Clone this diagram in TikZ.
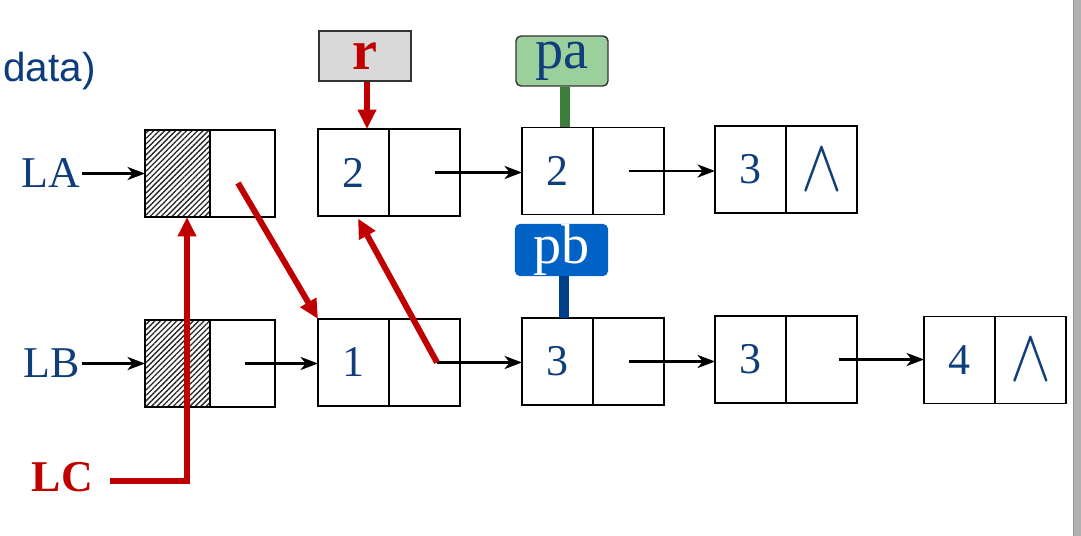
\documentclass[tikz,border=0pt]{standalone}
\usepackage{fontspec}
\setmainfont{Liberation Serif}
\newfontfamily\slidesans{Liberation Sans}
\usetikzlibrary{arrows.meta,chains,positioning,%
	patterns.meta}

\definecolor{txtblue}{RGB}{16,62,122}
\definecolor{ptrred}{RGB}{192,0,0}
\definecolor{pagreen}{RGB}{155,207,155}
\definecolor{pastem}{RGB}{60,125,60}
\definecolor{pbblue}{RGB}{0,98,196}
\definecolor{pbstem}{RGB}{0,64,138}

\begin{document}
\begin{tikzpicture}[
			start chain =1 going right,
			start chain =2 going right,
			node distance = 0pt,
			font=\fontsize{25}{28}\selectfont,
			Cell/.style={draw, line width=0.9pt, minimum width=1.42cm, minimum height=1.74cm, 
				outer sep=0pt, inner sep=0pt, text=txtblue},
			A/.style={Cell, on chain=1},
			B/.style={Cell, on chain=2},
			Head/.style={minimum width=1.3cm},
			Hatch/.style={Head, pattern={Lines[angle=45, distance=2.2pt, line width=0.75pt]}, 
				pattern color=black!85},
			Nil/.style={font=\fontsize{28}{30}\selectfont},
			Tag/.style={draw=black!80, line width=0.8pt, minimum width=1.84cm, minimum height=1cm, 
				inner sep=0pt, font=\fontsize{32}{34}\selectfont},
			Lbl/.style={inner sep=1pt, text=txtblue},
			ptr/.style={-{Stealth[length=10pt, width=7.5pt, inset=3pt]}, line width=1.2pt},
			redptr/.style={-{Triangle[length=11pt, width=10pt]}, line width=3.4pt, draw=ptrred},
			]
			\useasboundingbox (0,0) rectangle (21.62,-10.72);
			\fill[gray!62] (21.46,0) rectangle (21.62,-10.72);
			\draw[gray!80, line width=0.6pt] (21.47,0) -- (21.47,-10.72);
			
			\node [anchor=base west, inner sep=0pt, text={rgb,255:red,12;green,60;blue,125}, 
			font=\slidesans\fontsize{23}{26}\selectfont] (title) at (0.06,-1.64) {data)};
			
			% list LA
			\node [A, Hatch] (ah) at (3.55,-3.47) {};
			\node [A, Head] (ahp) {};
			\node [A] (a1) at (6.36,-3.45) {2};
			\node [A] (a1p) {};
			\node [A] (a2) at (10.44,-3.42) {2};
			\node [A] (a2p) {};
			\node [A] (a3) at (14.30,-3.39) {3};
			\node [A, Nil] (a3p) {\scalebox{1.4}[1.7]{$\wedge$}};
			
			% list LB
			\node [B, Hatch] (bh) at (3.55,-7.27) {};
			\node [B, Head] (bhp) {};
			\node [B] (b1) at (6.36,-7.25) {1};
			\node [B] (b1p) {};
			\node [B] (b2) at (10.44,-7.23) {3};
			\node [B] (b2p) {};
			\node [B] (b3) at (14.30,-7.19) {3};
			\node [B] (b3p) {};
			\node [B] (b4) at (18.48,-7.2) {4};
			\node [B, Nil] (b4p) {\scalebox{1.4}[1.7]{$\wedge$}};
			
			\node [Lbl, left=1.26cm of ah] (LA) {LA};
			\node [Lbl, left=1.26cm of bh] (LB) {LB};
			\node [inner sep=1pt, text=ptrred, font=\bfseries\fontsize{25}{28}\selectfont] (LC) at (1.25,-9.54) {LC};
			
			\draw[ptr] (LA) -- (ah);
			\draw[ptr] ([xshift=0.2cm]a1p.center) -- (a1p.center -| a2.west);
			\draw[ptr] (a2p.center) -- (a2p.center -| a3.west);
			\draw[ptr] (LB) -- (bh);
			\draw[ptr] ([xshift=0.05cm]bhp.center) -- (bhp.center -| b1.west);
			\draw[ptr] ([xshift=0.25cm]b1p.center) -- (b1p.center -| b2.west);
			\draw[ptr] (b2p.center) -- (b2p.center -| b3.west);
			\draw[ptr] ([xshift=0.34cm]b3p.center) -- (b3p.center -| b4.west);
			
			% pointer tags
			\node [Tag, fill=black!15, text=ptrred, font=\bfseries\fontsize{32}{34}\selectfont] (r) at (7.30,-1.12) {r};
			\node [Tag, fill=pagreen, text=txtblue, rounded corners=2.8pt] (pa) at (11.24,-1.22) {pa};
			\node [Tag, fill=pbblue, draw=pbblue, text=white, rounded corners=2.8pt] (pb) at (11.23,-5.0) {pb};
			
			\draw[redptr] ([xshift=0.04cm]r.south) -- ([xshift=0.04cm]r.south |- a1.north);
			\draw[pastem, line width=0.2cm] ([xshift=0.06cm]pa.south) -- ([xshift=0.06cm]pa.south |- a2.north);
			\draw[pbstem, line width=0.2cm] ([xshift=0.05cm]pb.south) -- ([xshift=0.05cm]pb.south |- b2.north);
			
			% merged links
			\coordinate (s1) at ([xshift=-0.09cm, yshift=-0.19cm]ahp.center);
			\coordinate (s2) at ([xshift=0.25cm]b1p.center);
			\draw[redptr] (s1) -- (b1.north west);
			\draw[redptr] (s2) -- ([xshift=0.09cm, yshift=-0.05cm]a1.south);
			\draw[redptr] ([xshift=0.3cm, yshift=-0.08cm]LC.east) -| ([xshift=0.19cm]ah.south);
		\end{tikzpicture}
\end{document}
